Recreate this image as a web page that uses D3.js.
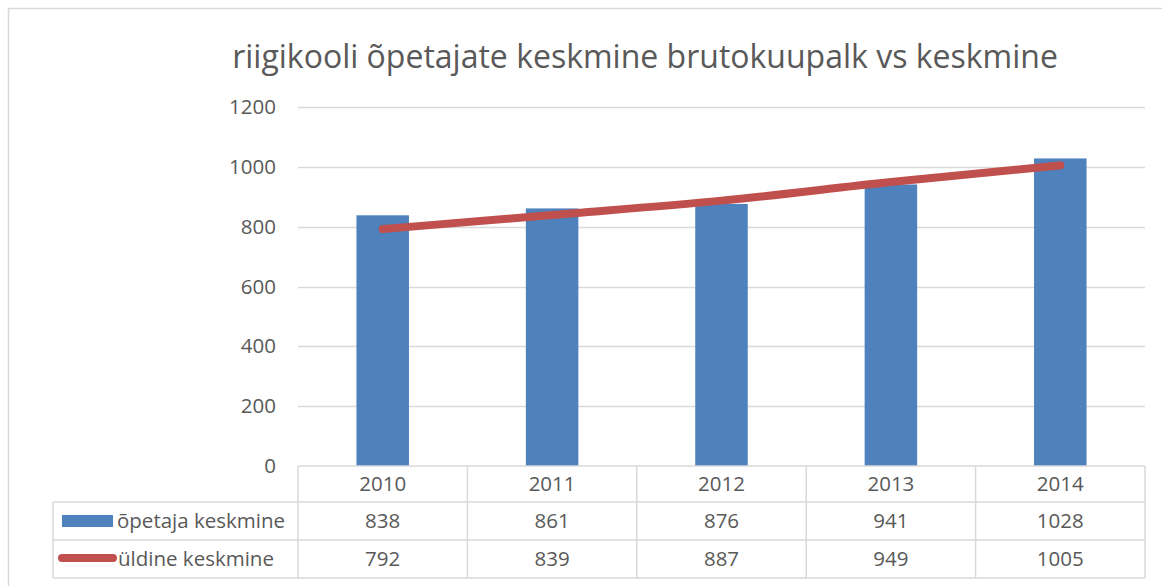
<!DOCTYPE html>
<html>
<head>
<meta charset="utf-8">
<script src="https://cdn.jsdelivr.net/npm/d3@7"></script>
<style>
  body { margin: 0; background: #fff; }
  text { font-family: "Open Sans", "Noto Sans", sans-serif; fill: #595959; }
</style>
</head>
<body>
<svg id="chart" width="1162" height="586"></svg>
<script>
// data
var years = ["2010", "2011", "2012", "2013", "2014"];
var teacherAvg = [838, 861, 876, 941, 1028];
var generalAvg = [792, 839, 887, 949, 1005];
var seriesNames = ["õpetaja keskmine", "üldine keskmine"];
var yTicks = [0, 200, 400, 600, 800, 1000, 1200];
var title = "riigikooli õpetajate keskmine brutokuupalk vs keskmine";

var svg = d3.select("#chart");
var grid = "#d9d9d9", blue = "#4f81bd", red = "#c0504d";

// outer chart frame
svg.append("rect").attr("x", 8.5).attr("y", 8.5)
    .attr("width", 1170).attr("height", 600)
    .attr("fill", "none").attr("stroke", grid).attr("stroke-width", 1.5);

var plotL = 298, plotR = 1145, plotT = 107, plotB = 466;

var x = d3.scaleBand().domain(years).range([plotL, plotR]).paddingInner(0).paddingOuter(0);
var y = d3.scaleLinear().domain([0, 1200]).range([plotB, plotT]);

svg.append("text")
    .attr("x", 645).attr("y", 68)
    .attr("text-anchor", "middle")
    .style("font-size", "32px")
    .text(title);

// gridlines
svg.selectAll(".grid").data(yTicks.filter(function(d){ return d > 0 }))
    .enter().append("line")
    .attr("x1", plotL).attr("x2", plotR)
    .attr("y1", function(d){ return Math.round(y(d)) + 0.5 })
    .attr("y2", function(d){ return Math.round(y(d)) + 0.5 })
    .attr("stroke", grid).attr("stroke-width", 1.5);

// y labels
svg.selectAll(".ylab").data(yTicks)
    .enter().append("text")
    .attr("x", 276)
    .attr("y", function(d){ return y(d) + 7 })
    .attr("text-anchor", "end")
    .style("font-size", "20.5px")
    .text(function(d){ return d });

// bars
var bw = x.bandwidth() * 0.31;
svg.selectAll(".bar").data(teacherAvg)
    .enter().append("rect")
    .attr("x", function(d, i){ return x(years[i]) + x.bandwidth()/2 - bw/2 })
    .attr("y", function(d){ return y(d) })
    .attr("width", bw)
    .attr("height", function(d){ return plotB - y(d) })
    .attr("fill", blue);

// smoothed line
var line = d3.line()
    .x(function(d, i){ return x(years[i]) + x.bandwidth()/2 })
    .y(function(d){ return y(d) })
    .curve(d3.curveMonotoneX);
svg.append("path").datum(generalAvg)
    .attr("d", line)
    .attr("fill", "none").attr("stroke", red)
    .attr("stroke-width", 8).attr("stroke-linecap", "round");

// data table
var rowH = [466, 502, 540, 578];
var tableLeft = 53;
function hline(x1, x2, yy){
    svg.append("line").attr("x1", x1).attr("x2", x2).attr("y1", yy).attr("y2", yy)
        .attr("stroke", grid).attr("stroke-width", 1.5);
}
function vline(xx, y1, y2){
    svg.append("line").attr("x1", xx).attr("x2", xx).attr("y1", y1).attr("y2", y2)
        .attr("stroke", grid).attr("stroke-width", 1.5);
}
hline(plotL, plotR, rowH[0]);
hline(tableLeft, plotR, rowH[1]);
hline(tableLeft, plotR, rowH[2]);
hline(tableLeft, plotR, rowH[3]);
vline(tableLeft, rowH[1], rowH[3]);
years.forEach(function(yr){ vline(x(yr), rowH[0], rowH[3]) });
vline(plotR, rowH[0], rowH[3]);

svg.selectAll(".yr").data(years)
    .enter().append("text")
    .attr("x", function(d){ return x(d) + x.bandwidth()/2 })
    .attr("y", (rowH[0] + rowH[1]) / 2 + 7)
    .attr("text-anchor", "middle")
    .style("font-size", "20.5px")
    .text(function(d){ return d });

[teacherAvg, generalAvg].forEach(function(vals, r){
    svg.selectAll(".v" + r).data(vals)
        .enter().append("text")
        .attr("x", function(d, i){ return x(years[i]) + x.bandwidth()/2 })
        .attr("y", (rowH[r+1] + rowH[r+2]) / 2 + 7)
        .attr("text-anchor", "middle")
        .style("font-size", "20.5px")
        .text(function(d){ return d });
});

// legend keys in the table
svg.append("rect").attr("x", 62).attr("y", 515).attr("width", 51).attr("height", 12).attr("fill", blue);
svg.append("line").attr("x1", 62).attr("x2", 113).attr("y1", 558).attr("y2", 558)
    .attr("stroke", red).attr("stroke-width", 8).attr("stroke-linecap", "round");
seriesNames.forEach(function(n, r){
    svg.append("text")
        .attr("x", r == 0 ? 117 : 118)
        .attr("y", (rowH[r+1] + rowH[r+2]) / 2 + 7)
        .style("font-size", "20.5px")
        .text(n);
});
</script>
</body>
</html>
